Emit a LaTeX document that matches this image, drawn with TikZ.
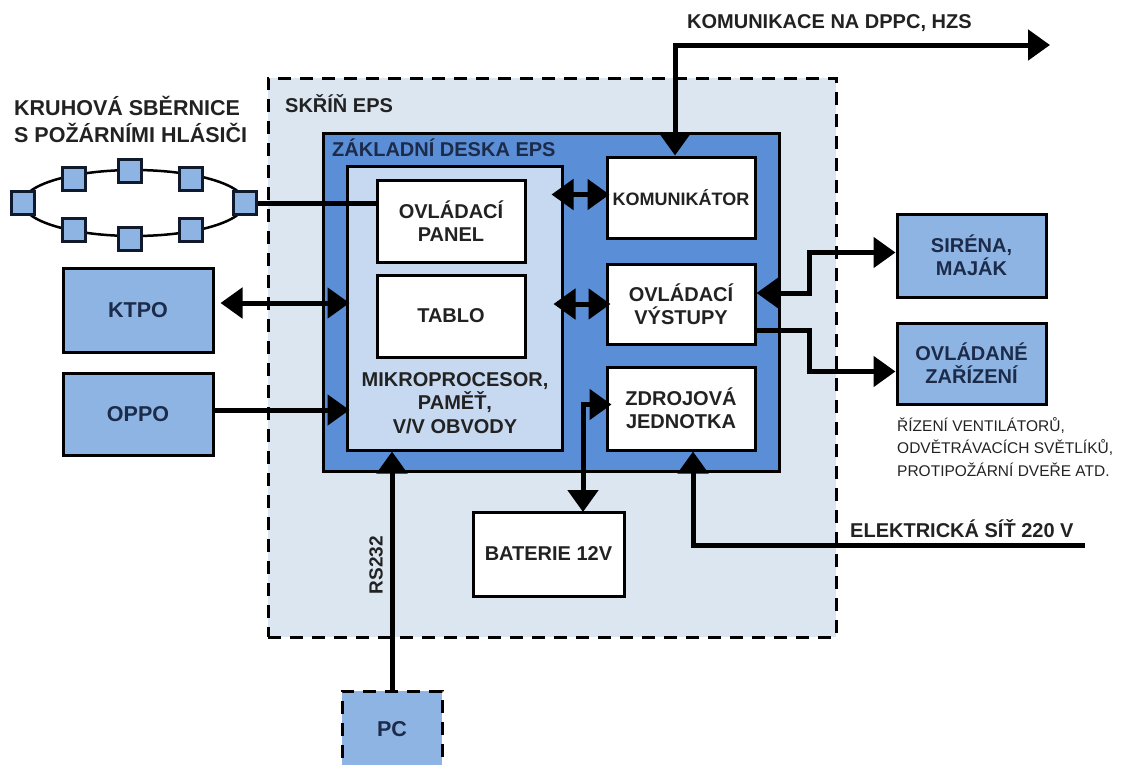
\documentclass[tikz,border=0pt]{standalone}
\usepackage{fontspec}
\setmainfont{Liberation Sans}
\usetikzlibrary{arrows.meta}
\definecolor{skrin}{HTML}{DCE6F1}
\definecolor{deska}{HTML}{5A8ED6}
\definecolor{mproc}{HTML}{C6D9F1}
\definecolor{ext}{HTML}{8DB4E2}
\definecolor{navy}{HTML}{1C2B4A}
\definecolor{txt}{HTML}{222222}
\tikzset{
  box/.style={draw=black, line width=3pt, fill=white, align=center, text=txt,
    font=\fontsize{20}{23}\selectfont\bfseries, inner sep=2pt},
  extbox/.style={box, fill=ext, text=navy},
  det/.style={draw=navy!60!black, line width=3pt, fill=ext, minimum width=23pt, minimum height=23pt, inner sep=0pt},
  conn/.style={line width=5pt, black},
  tip/.style={-{Triangle[length=22pt,width=30pt]}},
  dtip/.style={{Triangle[length=22pt,width=30pt]}-{Triangle[length=22pt,width=30pt]}},
  lbl/.style={font=\fontsize{20}{23}\selectfont\bfseries, text=txt, inner sep=0pt},
  small/.style={font=\fontsize{15.5}{22.5}\selectfont, text=txt, inner sep=0pt, align=left}
}
\begin{document}
\begin{tikzpicture}[x=1pt,y=-1pt]
\useasboundingbox (0,0) rectangle (1130,764);
\clip (0,0) rectangle (1130,764);
% outer cabinet
\node[draw=black, line width=3pt, dash pattern=on 13pt off 9pt, fill=skrin,
  minimum width=568pt, minimum height=559pt] (skrin) at (552,357.5) {};
\node[lbl, anchor=base west] (skrinlbl) at (285,112) {SKŘÍŇ EPS};
% base board
\node[draw=black, line width=3pt, fill=deska, minimum width=456pt, minimum height=338pt] (deska) at (551,302) {};
\node[lbl, anchor=base west, text=navy] (deskalbl) at (332,156) {ZÁKLADNÍ DESKA EPS};
% microprocessor
\node[draw=black, line width=3pt, fill=mproc, minimum width=215pt, minimum height=284pt] (mp) at (454.5,308) {};
\node[lbl, align=center, font=\fontsize{20}{23.5}\selectfont\bfseries] (mplbl) at (455,403) {MIKROPROCESOR,\\PAMĚŤ,\\V/V OBVODY};
\node[box, minimum width=148pt, minimum height=82pt] (panel) at (451,221) {OVLÁDACÍ\\PANEL};
\node[box, minimum width=148pt, minimum height=82pt] (tablo) at (451,316) {TABLO};
% right modules
\node[box, minimum width=148pt, minimum height=81pt, inner sep=0pt, font=\fontsize{18}{22}\selectfont\bfseries] (kom) at (681,197.5) {KOMUNIKÁTOR};
\node[box, minimum width=148pt, minimum height=80pt] (vyst) at (681,304) {OVLÁDACÍ\\VÝSTUPY};
\node[box, minimum width=148pt, minimum height=83pt] (zdroj) at (681,408.5) {ZDROJOVÁ\\JEDNOTKA};
\node[box, minimum width=151pt, minimum height=84pt] (bat) at (548.5,554) {BATERIE 12V};
% external boxes
\node[extbox, minimum width=150pt, minimum height=84pt, font=\fontsize{21.5}{24}\selectfont\bfseries] (ktpo) at (138,310) {KTPO};
\node[extbox, minimum width=150pt, minimum height=82pt, font=\fontsize{21.5}{24}\selectfont\bfseries] (oppo) at (138,414) {OPPO};
\node[extbox, minimum width=149pt, minimum height=83pt] (sirena) at (971.5,255.5) {SIRÉNA,\\MAJÁK};
\node[extbox, minimum width=149pt, minimum height=81pt] (ovl) at (971.5,363.5) {OVLÁDANÉ\\ZAŘÍZENÍ};
\node[small, anchor=west] (ovlnote) at (897,447) {ŘÍZENÍ VENTILÁTORŮ,\\ODVĚTRÁVACÍCH SVĚTLÍKŮ,\\PROTIPOŽÁRNÍ DVEŘE ATD.};
\node[extbox, dash pattern=on 13pt off 9pt, minimum width=100pt, minimum height=76pt, font=\fontsize{21.5}{24}\selectfont\bfseries] (pc) at (392,729) {PC};
% ring bus
\draw[line width=2.5pt] (134,203) ellipse [x radius=111pt, y radius=33pt];
\node[lbl, align=left, anchor=west, font=\fontsize{21.5}{27}\selectfont\bfseries] (ringlbl) at (14,119) {KRUHOVÁ SBĚRNICE\\S POŽÁRNÍMI HLÁSIČI};
\node[det] (r1) at (23,203) {};
\node[det] (r2) at (74,179) {};
\node[det] (r3) at (130,171) {};
\node[det] (r4) at (191,179) {};
\node[det] (r5) at (245,203) {};
\node[det] (r6) at (74,230) {};
\node[det] (r7) at (130,239) {};
\node[det] (r8) at (191,230) {};
% connectors
\draw[conn] (r5.east) -- (r5.east -| panel.west);
\draw[conn, dtip, shorten <=6pt, shorten >=-4pt] ([yshift=7pt]ktpo.east) -- ([yshift=7pt]ktpo.east -| mp.west);
\draw[conn, tip, shorten >=-4pt] ([yshift=4pt]oppo.east) -- ([yshift=4pt]oppo.east -| mp.west);
\draw[conn, dtip, shorten <=-12pt, shorten >=-4pt] ([yshift=3pt]mp.east |- kom.west) -- ([yshift=3pt]kom.west);
\draw[conn, dtip, shorten <=-10pt, shorten >=-5pt] (mp.east |- vyst.west) -- (vyst.west);
\coordinate (bz) at (583,512);
\draw[conn, dtip, shorten <=-6pt] ([yshift=4pt]zdroj.west) -| (bz);
\coordinate (el) at (1085,545);
\draw[conn, tip] (el) -| ([xshift=12pt]zdroj.south);
\node[lbl, anchor=base west] (ellbl) at (850,537) {ELEKTRICKÁ SÍŤ 220 V};
\coordinate (kd) at (1050,45);
\draw[conn, dtip] ([xshift=-6pt]kom.north) |- (kd);
\node[lbl, anchor=base west] (komlbl) at (687,28) {KOMUNIKACE NA DPPC, HZS};
\draw[conn, dtip] ([yshift=11pt]vyst.east) -- ++(53,0) |- ([yshift=3pt]sirena.west);
\draw[conn, tip] ([yshift=-26pt]vyst.east) -- ++(53,0) |- ([yshift=-8pt]ovl.west);
\draw[conn, tip] (pc.north) -- (pc.north |- mp.south);
\node[lbl, rotate=90, font=\fontsize{19}{22}\selectfont\bfseries] (rs) at (376,565) {RS232};
\end{tikzpicture}
\end{document}
